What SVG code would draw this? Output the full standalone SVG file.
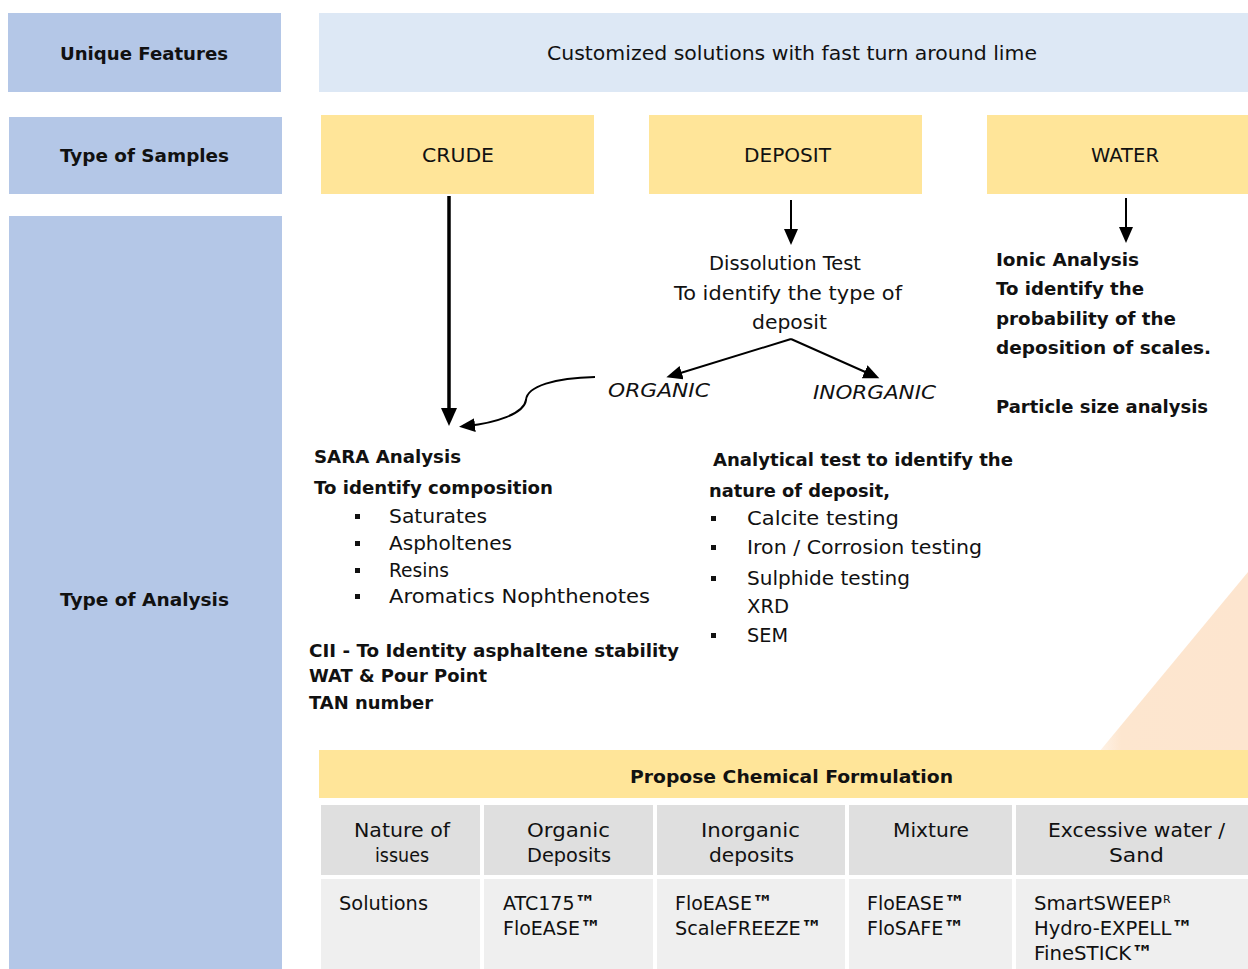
<svg xmlns="http://www.w3.org/2000/svg" width="1248" height="969" viewBox="0 0 1248 969">
<style>
text{font-family:"DejaVu Sans","Liberation Sans",sans-serif;fill:#111;}
.r{font-size:19px;}
.b{font-size:18px;font-weight:bold;}
.i{font-size:19px;font-style:italic;}
.t{font-size:19px;}
.tm{font-size:21px;font-weight:bold;}
.blue{fill:#b4c7e7;}
.pale{fill:#dde8f5;}
.yel{fill:#ffe599;}
.g1{fill:#dfdfdf;}
.g2{fill:#efefef;}
.bul{fill:#111;}
.ln{stroke:#000;fill:none;stroke-width:2;}
.lnb{stroke:#000;fill:none;stroke-width:3.5;}
</style>
<defs>
<marker id="ah" markerUnits="userSpaceOnUse" markerWidth="18" markerHeight="16" refX="8" refY="7" orient="auto">
<path d="M0,0 L16,7 L0,14 z" fill="#000"/>
</marker>
<marker id="ahb" markerUnits="userSpaceOnUse" markerWidth="20" markerHeight="18" refX="8" refY="8" orient="auto">
<path d="M0,0 L18,8 L0,16 z" fill="#000"/>
</marker>
<linearGradient id="tri" x1="0" y1="0" x2="1" y2="0">
<stop offset="0" stop-color="#fde6cf" stop-opacity="0.5"/>
<stop offset="0.15" stop-color="#fde6cf"/>
<stop offset="1" stop-color="#fde5cf"/>
</linearGradient>
</defs>
<rect width="1248" height="969" fill="#fff"/>
<polygon points="1248,572 1248,752 1099,752" fill="url(#tri)"/>

<g id="unique-features">
<rect class="blue" x="8" y="13" width="273" height="79"/>
<text class="b" x="60" y="60" textLength="168" lengthAdjust="spacingAndGlyphs">Unique Features</text>
</g>
<g id="customized">
<rect class="pale" x="319" y="13" width="929" height="79"/>
<text class="r" x="547" y="60" textLength="490" lengthAdjust="spacingAndGlyphs">Customized  solutions  with fast  turn  around  lime</text>
</g>
<g id="type-of-samples">
<rect class="blue" x="9" y="117" width="273" height="77"/>
<text class="b" x="60" y="162" textLength="169" lengthAdjust="spacingAndGlyphs">Type of Samples</text>
</g>
<g id="crude">
<rect class="yel" x="321" y="115" width="273" height="79"/>
<text class="r" x="422" y="162" textLength="72" lengthAdjust="spacingAndGlyphs">CRUDE</text>
</g>
<g id="deposit">
<rect class="yel" x="649" y="115" width="273" height="79"/>
<text class="r" x="744" y="162" textLength="87" lengthAdjust="spacingAndGlyphs">DEPOSIT</text>
</g>
<g id="water">
<rect class="yel" x="987" y="115" width="261" height="79"/>
<text class="r" x="1091" y="162" textLength="68" lengthAdjust="spacingAndGlyphs">WATER</text>
</g>
<g id="type-of-analysis">
<rect class="blue" x="9" y="216" width="273" height="753"/>
<text class="b" x="60" y="606" textLength="169" lengthAdjust="spacingAndGlyphs">Type of Analysis</text>
</g>

<g id="connectors">
<line class="lnb" x1="449" y1="196" x2="449" y2="416" marker-end="url(#ahb)"/>
<line class="ln" x1="791" y1="200" x2="791" y2="237" marker-end="url(#ah)"/>
<line class="ln" x1="1126" y1="198" x2="1126" y2="235" marker-end="url(#ah)"/>
<line class="ln" x1="791" y1="339" x2="674" y2="375" marker-end="url(#ah)"/>
<line class="ln" x1="791" y1="339" x2="872" y2="375" marker-end="url(#ah)"/>
<path class="ln" d="M595,377 C555,378 527,386 526,400 C524,414 495,423 467,426" marker-end="url(#ah)"/>
</g>

<g id="dissolution">
<text class="r" x="709" y="270" textLength="152" lengthAdjust="spacingAndGlyphs">Dissolution  Test</text>
<text class="r" x="674" y="300" textLength="228" lengthAdjust="spacingAndGlyphs">To identify  the type of</text>
<text class="r" x="752" y="329" textLength="75" lengthAdjust="spacingAndGlyphs">deposit</text>
</g>
<g id="organic">
<text class="i" x="608" y="397" textLength="102" lengthAdjust="spacingAndGlyphs">ORGANIC</text>
</g>
<g id="inorganic">
<text class="i" x="813" y="399" textLength="123" lengthAdjust="spacingAndGlyphs">INORGANIC</text>
</g>

<g id="water-analysis">
<text class="b" x="996" y="266" textLength="143" lengthAdjust="spacingAndGlyphs">Ionic  Analysis</text>
<text class="b" x="996" y="295" textLength="148" lengthAdjust="spacingAndGlyphs">To identify  the</text>
<text class="b" x="996" y="325" textLength="180" lengthAdjust="spacingAndGlyphs">probability  of the</text>
<text class="b" x="996" y="354" textLength="215" lengthAdjust="spacingAndGlyphs">deposition  of scales.</text>
<text class="b" x="996" y="413" textLength="212" lengthAdjust="spacingAndGlyphs">Particle size analysis</text>
</g>

<g id="sara">
<text class="b" x="314" y="463" textLength="147" lengthAdjust="spacingAndGlyphs">SARA Analysis</text>
<text class="b" x="314" y="494" textLength="239" lengthAdjust="spacingAndGlyphs">To identify  composition</text>
<rect class="bul" x="355" y="514" width="5" height="5"/>
<text class="r" x="389" y="523" textLength="98" lengthAdjust="spacingAndGlyphs">Saturates</text>
<rect class="bul" x="355" y="541" width="5" height="5"/>
<text class="r" x="389" y="550" textLength="123" lengthAdjust="spacingAndGlyphs">Aspholtenes</text>
<rect class="bul" x="355" y="568" width="5" height="5"/>
<text class="r" x="389" y="577" textLength="60" lengthAdjust="spacingAndGlyphs">Resins</text>
<rect class="bul" x="355" y="594" width="5" height="5"/>
<text class="r" x="389" y="603" textLength="261" lengthAdjust="spacingAndGlyphs">Aromatics  Nophthenotes</text>
<text class="b" x="309" y="657" textLength="370" lengthAdjust="spacingAndGlyphs">CII  - To Identity  asphaltene  stability</text>
<text class="b" x="309" y="682" textLength="178" lengthAdjust="spacingAndGlyphs">WAT &amp; Pour Point</text>
<text class="b" x="309" y="709" textLength="124" lengthAdjust="spacingAndGlyphs">TAN number</text>
</g>

<g id="analytical">
<text class="b" x="713" y="466" textLength="300" lengthAdjust="spacingAndGlyphs">Analytical  test to identify the</text>
<text class="b" x="709" y="497" textLength="181" lengthAdjust="spacingAndGlyphs">nature of deposit,</text>
<rect class="bul" x="711" y="516" width="5" height="5"/>
<text class="r" x="747" y="525" textLength="152" lengthAdjust="spacingAndGlyphs">Calcite  testing</text>
<rect class="bul" x="711" y="545" width="5" height="5"/>
<text class="r" x="747" y="554" textLength="235" lengthAdjust="spacingAndGlyphs">Iron / Corrosion  testing</text>
<rect class="bul" x="711" y="576" width="5" height="5"/>
<text class="r" x="747" y="585" textLength="163" lengthAdjust="spacingAndGlyphs">Sulphide testing</text>
<text class="r" x="747" y="613" textLength="42" lengthAdjust="spacingAndGlyphs">XRD</text>
<rect class="bul" x="711" y="633" width="5" height="5"/>
<text class="r" x="747" y="642" textLength="41" lengthAdjust="spacingAndGlyphs">SEM</text>
</g>

<g id="formulation-table">
<rect class="yel" x="319" y="750" width="929" height="48"/>
<text class="b" x="630" y="783" textLength="323" lengthAdjust="spacingAndGlyphs">Propose Chemical  Formulation</text>
<rect class="g1" x="321" y="805" width="159" height="70"/>
<rect class="g1" x="484" y="805" width="169" height="70"/>
<rect class="g1" x="657" y="805" width="188" height="70"/>
<rect class="g1" x="849" y="805" width="163" height="70"/>
<rect class="g1" x="1016" y="805" width="232" height="70"/>
<rect class="g2" x="321" y="879" width="159" height="90"/>
<rect class="g2" x="484" y="879" width="169" height="90"/>
<rect class="g2" x="657" y="879" width="188" height="90"/>
<rect class="g2" x="849" y="879" width="163" height="90"/>
<rect class="g2" x="1016" y="879" width="232" height="90"/>
<text class="t" x="354" y="837" textLength="96" lengthAdjust="spacingAndGlyphs">Nature of</text>
<text class="t" x="375" y="862" textLength="54" lengthAdjust="spacingAndGlyphs">issues</text>
<text class="t" x="527" y="837" textLength="83" lengthAdjust="spacingAndGlyphs">Organic</text>
<text class="t" x="527" y="862" textLength="84" lengthAdjust="spacingAndGlyphs">Deposits</text>
<text class="t" x="701" y="837" textLength="99" lengthAdjust="spacingAndGlyphs">Inorganic</text>
<text class="t" x="709" y="862" textLength="85" lengthAdjust="spacingAndGlyphs">deposits</text>
<text class="t" x="893" y="837" textLength="76" lengthAdjust="spacingAndGlyphs">Mixture</text>
<text class="t" x="1048" y="837" textLength="177" lengthAdjust="spacingAndGlyphs">Excessive water /</text>
<text class="t" x="1109" y="862" textLength="55" lengthAdjust="spacingAndGlyphs">Sand</text>
<text class="t" x="339" y="910" textLength="89" lengthAdjust="spacingAndGlyphs">Solutions</text>
<text class="t" x="503" y="910">ATC175<tspan class="tm">™</tspan></text>
<text class="t" x="503" y="935">FloEASE<tspan class="tm">™</tspan></text>
<text class="t" x="675" y="910">FloEASE<tspan class="tm">™</tspan></text>
<text class="t" x="675" y="935" textLength="147" lengthAdjust="spacingAndGlyphs">ScaleFREEZE<tspan class="tm">™</tspan></text>
<text class="t" x="867" y="910">FloEASE<tspan class="tm">™</tspan></text>
<text class="t" x="867" y="935">FloSAFE<tspan class="tm">™</tspan></text>
<text class="t" x="1034" y="910" textLength="128" lengthAdjust="spacingAndGlyphs">SmartSWEEP</text>
<text x="1163" y="903" style="font-size:11px">R</text>
<text class="t" x="1034" y="935" textLength="159" lengthAdjust="spacingAndGlyphs">Hydro-EXPELL<tspan class="tm">™</tspan></text>
<text class="t" x="1034" y="960" textLength="119" lengthAdjust="spacingAndGlyphs">FineSTICK<tspan class="tm">™</tspan></text>
</g>
</svg>
